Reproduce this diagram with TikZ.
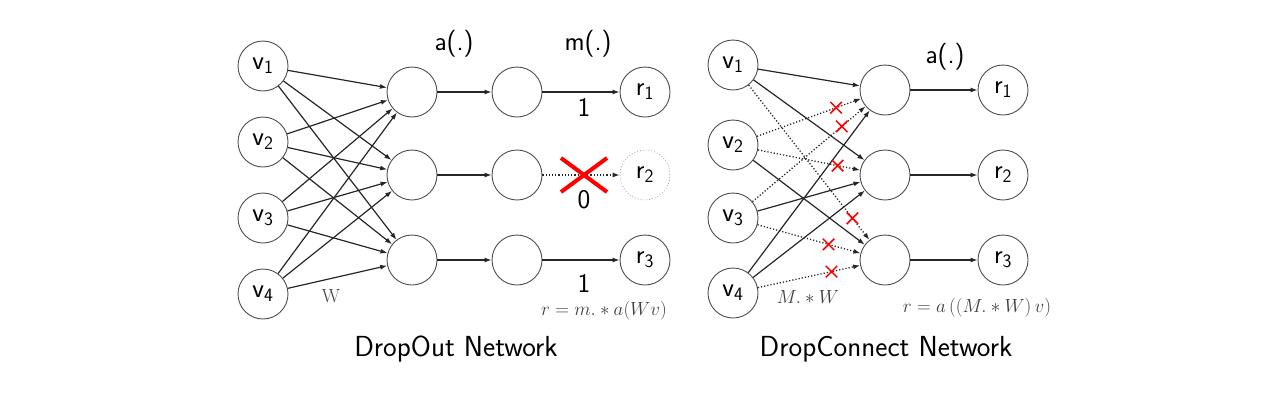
\RequirePackage{fix-cm}
\documentclass[tikz,border=0pt]{standalone}
\usepackage{fontspec}
\usetikzlibrary{arrows.meta,shapes.misc}
\newcommand{\lblfont}{\fontsize{27}{30}\selectfont\sffamily}
\newcommand{\ttlfont}{\fontsize{29}{32}\selectfont\sffamily}
\newcommand{\mathfnt}{\fontsize{19}{22}\selectfont}
\tikzset{
  neuron/.style={circle, draw=black!70, line width=0.9pt, minimum size=50pt, inner sep=0pt, font=\lblfont},
  ghost/.style={neuron, draw=black!45, dotted, line width=0.6pt},
  conn/.style={-{Latex[length=7pt,width=5pt]}, line width=1.2pt, black!85},
  dconn/.style={conn, dotted, line width=1.3pt},
  xmark/.style={cross out, solid, draw=red, line width=1.5pt, minimum size=10pt, inner sep=0pt},
  lbl/.style={font=\lblfont, inner sep=1pt},
  ttl/.style={font=\ttlfont, inner sep=1pt},
  mlbl/.style={font=\mathfnt, inner sep=1pt, text=black!75}
}
\begin{document}
\begin{tikzpicture}[x=1pt,y=-1pt]
\useasboundingbox (0,0) rectangle (1281,402);
% ---------- DropOut ----------
\node[neuron] (v1) at (263,66) {v$_{\mathsf{1}}$};
\node[neuron] (v2) at (263,142) {v$_{\mathsf{2}}$};
\node[neuron] (v3) at (263,218) {v$_{\mathsf{3}}$};
\node[neuron] (v4) at (263,294) {v$_{\mathsf{4}}$};
\foreach \i/\y in {1/92,2/175,3/260}{
  \node[neuron] (h\i) at (412,\y) {};
  \node[neuron] (m\i) at (517,\y) {};
}
\node[neuron] (r1) at (645,92) {r$_{\mathsf{1}}$};
\node[ghost] (r2) at (645,175) {r$_{\mathsf{2}}$};
\node[neuron] (r3) at (645,260) {r$_{\mathsf{3}}$};
\foreach \a in {1,2,3,4}{
  \foreach \b in {1,2,3}{
    \draw[conn] (v\a) -- (h\b);
  }
}
\foreach \b in {1,2,3}{\draw[conn] (h\b) -- (m\b);}
\draw[conn] (m1) -- (r1);
\draw[dconn] (m2) -- (r2);
\draw[conn] (m3) -- (r3);
\coordinate (bx) at (584,175);
\draw[red, line width=4pt] ([shift={(-23,-17)}]bx) -- ([shift={(23,17)}]bx)
                           ([shift={(-23,17)}]bx) -- ([shift={(23,-17)}]bx);
\node[lbl] (la) at (454,44) {a(.)};
\node[lbl] (lm) at (588,44) {m(.)};
\node[lbl] (one1) at (584,107) {1};
\node[lbl] (zero) at (584,200) {0};
\node[lbl] (one3) at (584,283) {1};
\node[mlbl] (lw) at (331,296) {W};
\node[mlbl] (fo) at (604,311) {$r = m.*a(Wv)$};
\node[ttl] (t1) at (456,349) {DropOut Network};
% ---------- DropConnect ----------
\node[neuron] (c1) at (733,65) {v$_{\mathsf{1}}$};
\node[neuron] (c2) at (733,145) {v$_{\mathsf{2}}$};
\node[neuron] (c3) at (733,218) {v$_{\mathsf{3}}$};
\node[neuron] (c4) at (733,293) {v$_{\mathsf{4}}$};
\node[neuron] (g1) at (885,90) {};
\node[neuron] (g2) at (885,175) {};
\node[neuron] (g3) at (885,260) {};
\node[neuron] (s1) at (1003,90) {r$_{\mathsf{1}}$};
\node[neuron] (s2) at (1003,175) {r$_{\mathsf{2}}$};
\node[neuron] (s3) at (1003,260) {r$_{\mathsf{3}}$};
\draw[conn] (c1) -- (g1);
\draw[conn] (c1) -- (g2);
\draw[conn] (c2) -- (g3);
\draw[conn] (c3) -- (g2);
\draw[conn] (c4) -- (g1);
\draw[conn] (c4) -- (g2);
\draw[dconn] (c1) -- node[xmark, pos=0.86] (x1) {} (g3);
\draw[dconn] (c2) -- node[xmark, pos=0.76] (x2) {} (g1);
\draw[dconn] (c2) -- node[xmark, pos=0.78] (x3) {} (g2);
\draw[dconn] (c3) -- node[xmark, pos=0.79] (x4) {} (g1);
\draw[dconn] (c3) -- node[xmark, pos=0.69] (x5) {} (g3);
\draw[dconn] (c4) -- node[xmark, pos=0.72] (x6) {} (g3);
\foreach \b in {1,2,3}{\draw[conn] (g\b) -- (s\b);}
\node[lbl] (la2) at (945,57) {a(.)};
\node[mlbl] (lmw) at (808,297) {$M.*W$};
\node[mlbl] (fo2) at (977,308) {$r = a\left((M.*W)\,v\right)$};
\node[ttl] (t2) at (886,349) {DropConnect Network};
\end{tikzpicture}
\end{document}
